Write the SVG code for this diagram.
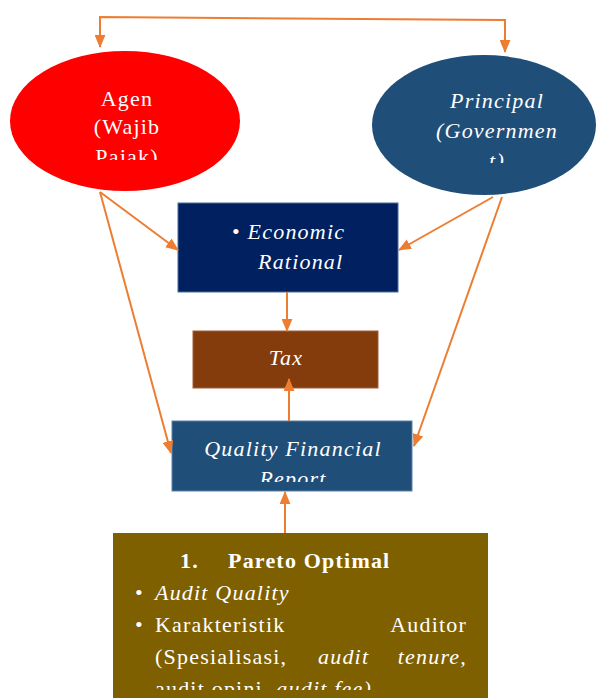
<svg xmlns="http://www.w3.org/2000/svg" width="596" height="698" viewBox="0 0 596 698">
<defs>
<style>
.t{font-family:"Liberation Serif","Times New Roman",serif;fill:#fff;font-size:22px;letter-spacing:1.2px}
.i{font-style:italic}
.b{font-weight:bold}
.c{stroke:#ED7D31;stroke-width:2;fill:none;marker-end:url(#ah)}
</style>
<marker id="ah" viewBox="0 0 12 10" refX="11" refY="5" markerWidth="13" markerHeight="11" markerUnits="userSpaceOnUse" orient="auto"><path d="M0,0 L12,5 L0,10 z" fill="#ED7D31"/></marker>
<clipPath id="cA"><rect x="0" y="0" width="596" height="160"/></clipPath>
<clipPath id="cP"><rect x="0" y="0" width="596" height="163"/></clipPath>
<clipPath id="cQ"><rect x="0" y="0" width="596" height="482"/></clipPath>
<clipPath id="cT"><rect x="0" y="0" width="596" height="690"/></clipPath>
</defs>
<rect width="596" height="698" fill="#fff"/>
<g id="agen">
<ellipse cx="125" cy="121" rx="115" ry="70" fill="#FF0000"/>
<g clip-path="url(#cA)">
<text class="t" x="127" y="106" text-anchor="middle">Agen</text>
<text class="t" x="127" y="134" text-anchor="middle">(Wajib</text>
<text class="t" x="127" y="164" text-anchor="middle">Pajak)</text>
</g>
</g>
<g id="principal">
<ellipse cx="484" cy="125" rx="112" ry="70" fill="#1F4E79"/>
<g clip-path="url(#cP)">
<text class="t i" x="497" y="108" text-anchor="middle">Principal</text>
<text class="t i" x="497" y="138" text-anchor="middle">(Governmen</text>
<text class="t i" x="497" y="168" text-anchor="middle">t)</text>
</g>
</g>
<g id="economic">
<rect x="178" y="203" width="220" height="89" fill="#002060" stroke="#4a6aa0" stroke-width="1"/>
<text class="t i" x="232" y="239"><tspan font-style="normal">•</tspan> Economic</text>
<text class="t i" x="258" y="269">Rational</text>
</g>
<g id="tax">
<rect x="193" y="331" width="185" height="57" fill="#843C0C" stroke="#a0603a" stroke-width="1"/>
<text class="t i" x="286" y="365" text-anchor="middle">Tax</text>
</g>
<g id="qfr">
<rect x="172" y="421" width="240" height="70" fill="#1F4E79" stroke="#5a80a8" stroke-width="1"/>
<g clip-path="url(#cQ)">
<text class="t i" x="293" y="456" text-anchor="middle">Quality Financial</text>
<text class="t i" x="293" y="486" text-anchor="middle">Report</text>
</g>
</g>
<g id="pareto">
<rect x="113" y="533" width="375" height="170" fill="#7F6000"/>
<g clip-path="url(#cT)">
<text class="t b" x="180" y="568">1.</text>
<text class="t b" x="228" y="568">Pareto Optimal</text>
<text class="t" x="135" y="600">•</text>
<text class="t i" x="155" y="600">Audit Quality</text>
<text class="t" x="135" y="632">•</text>
<text class="t" x="155" y="632">Karakteristik</text>
<text class="t" x="467" y="632" text-anchor="end">Auditor</text>
<text class="t" x="155" y="664">(Spesialisasi,</text>
<text class="t i" x="318" y="664">audit</text>
<text class="t i" x="467" y="664" text-anchor="end">tenure,</text>
<text class="t" x="155" y="696">audit opini, <tspan font-style="italic">audit fee)</tspan></text>
</g>
</g>
<g id="connectors">
<polyline points="100,34 100,17 505,20 505,38" class="c" style="marker-end:none"/>
<path d="M100,30 L100,47" class="c"/>
<path d="M505,34 L505,52" class="c"/>
<path d="M100,192 L178,250" class="c"/>
<path d="M100,192 L171,453" class="c"/>
<path d="M493,197 L399,250" class="c"/>
<path d="M502,197 L414,446" class="c"/>
<path d="M287,292 L287,331" class="c"/>
<path d="M289,421 L289,379" class="c"/>
<path d="M285,533 L285,492" class="c"/>
</g>
</svg>
